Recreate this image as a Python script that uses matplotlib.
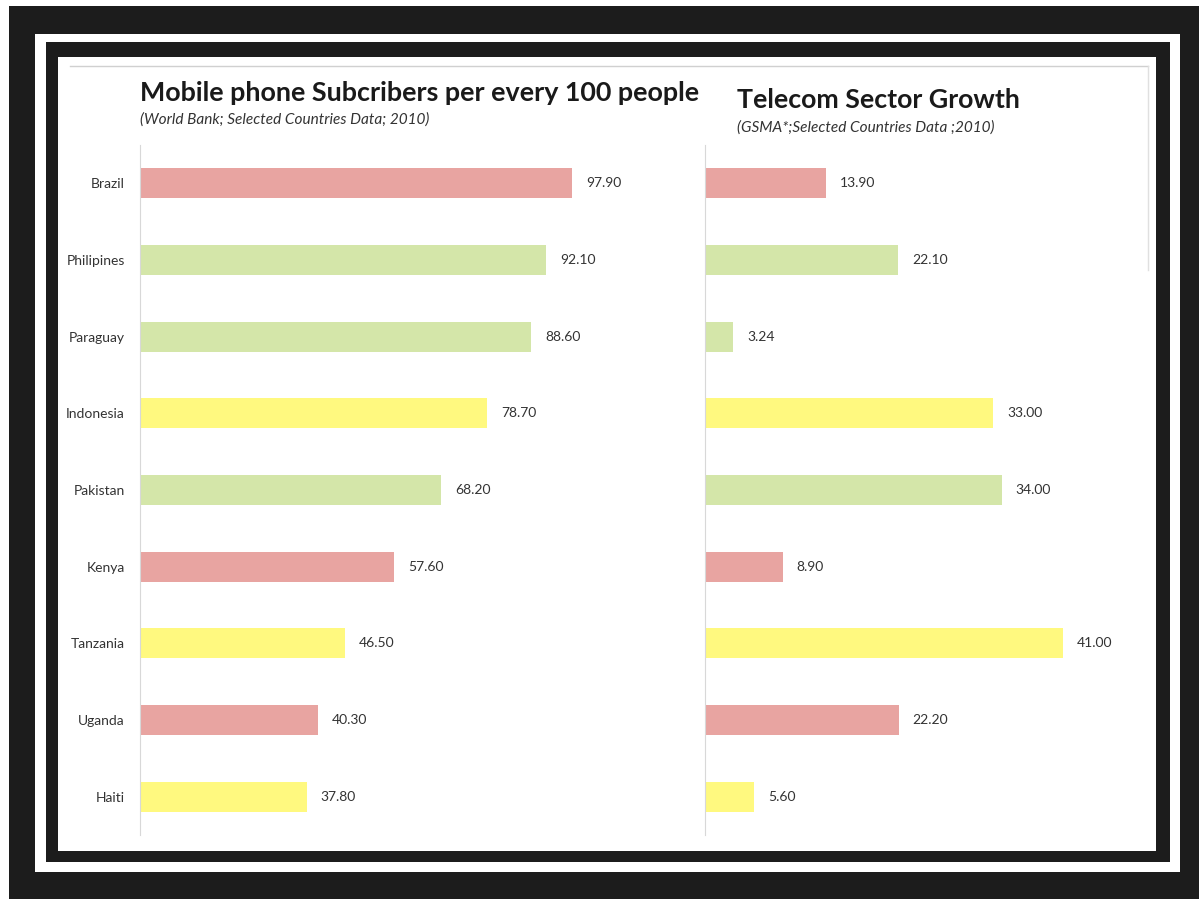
import matplotlib.pyplot as plt
from matplotlib.patches import Rectangle
from matplotlib.lines import Line2D

countries = ["Brazil", "Philipines", "Paraguay", "Indonesia", "Pakistan",
             "Kenya", "Tanzania", "Uganda", "Haiti"]
subscribers = [97.90, 92.10, 88.60, 78.70, 68.20, 57.60, 46.50, 40.30, 37.80]
growth = [13.90, 22.10, 3.24, 33.00, 34.00, 8.90, 41.00, 22.20, 5.60]
groups = ["red", "green", "green", "yellow", "green", "red", "yellow", "red", "yellow"]

palette = {"red": "#E8A4A1", "green": "#D4E6A9", "yellow": "#FFF97F"}
colors = [palette[g] for g in groups]

W, H = 1199, 899
plt.rcParams['font.family'] = ['Lato', 'DejaVu Sans']

fig = plt.figure(figsize=(W / 100, H / 100), dpi=100)
fig.patch.set_facecolor("white")

def box(x0, y0, x1, y1):
    # pixel box (top-left origin) -> figure fraction [left, bottom, w, h]
    return [x0 / W, 1 - y1 / H, (x1 - x0) / W, (y1 - y0) / H]

def rect(x0, y0, x1, y1, color):
    l, b, w, h = box(x0, y0, x1, y1)
    fig.patches.append(Rectangle((l, b), w, h, transform=fig.transFigure,
                                 facecolor=color, edgecolor="none", zorder=-5))

# picture frame
rect(9, 6, W, H, "#1c1c1c")
rect(35, 34, 1180, 872, "white")
rect(46, 42, 1170, 862, "#1c1c1c")
rect(58, 57, 1156, 851, "white")
fig.lines.append(Line2D([70 / W, 1148 / W], [1 - 66 / H, 1 - 66 / H],
                        transform=fig.transFigure, color="#d0d0d0", lw=1))
fig.lines.append(Line2D([1148 / W, 1148 / W], [1 - 66 / H, 1 - 270 / H],
                        transform=fig.transFigure, color="#e0e0e0", lw=1))

def panel(rect_px, values, xmax, fmt, show_names):
    ax = fig.add_axes(box(*rect_px))
    ax.set_zorder(5)
    y = list(range(len(values)))
    ax.barh(y, values, height=0.39, color=colors, zorder=2)
    ax.set_xlim(0, xmax)
    ax.set_ylim(len(values) - 0.5, -0.5)
    for i, v in enumerate(values):
        ax.annotate(fmt.format(v), (v, i), xytext=(10, 0), textcoords="offset points",
                    ha="left", va="center", fontsize=10, color="#333333")
    for s in ["top", "right", "bottom"]:
        ax.spines[s].set_visible(False)
    ax.spines["left"].set_color("#d8d8d8")
    ax.set_xticks([])
    ax.set_facecolor("none")
    ax.tick_params(axis="y", length=0, pad=11)
    ax.set_yticks(y)
    if show_names:
        ax.set_yticklabels(countries, fontsize=10, color="#333333")
    else:
        ax.set_yticklabels([])
    return ax

panel((140, 145, 140 + 110 * 4.413, 835), subscribers, 110, "{:.2f}", True)
panel((705, 145, 705 + 45 * 8.73, 835), growth, 45, "{:.2f}", False)

fig.text(140 / W, 1 - 101 / H, "Mobile phone Subcribers per every 100 people",
         fontsize=19.4, fontweight="bold", color="#1a1a1a", ha="left", va="baseline")
fig.text(140 / W, 1 - 124 / H, "(World Bank; Selected Countries Data; 2010)",
         fontsize=11.1, style="italic", color="#333333", ha="left", va="baseline")
fig.text(737 / W, 1 - 108 / H, "Telecom Sector Growth",
         fontsize=19.3, fontweight="bold", color="#1a1a1a", ha="left", va="baseline")
fig.text(737 / W, 1 - 132 / H, "(GSMA*;Selected Countries Data ;2010)",
         fontsize=11.1, style="italic", color="#333333", ha="left", va="baseline")

fig.savefig("out.png", dpi=100)
